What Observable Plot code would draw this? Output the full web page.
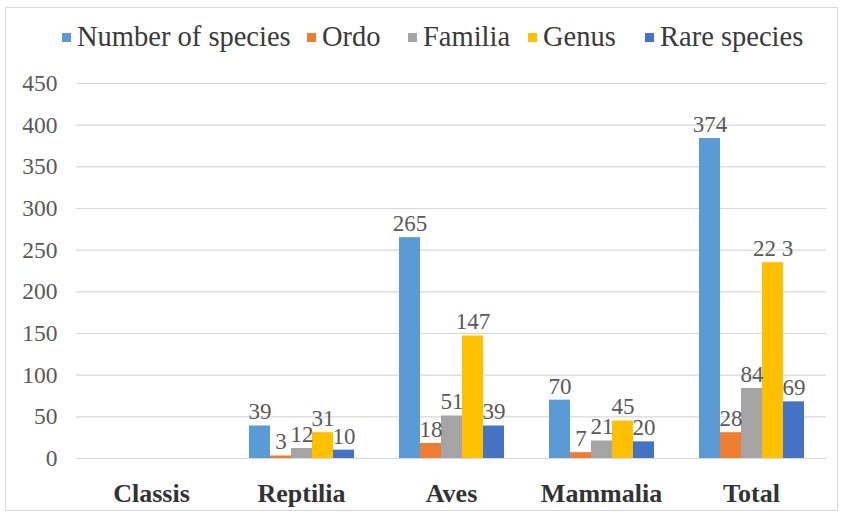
<!DOCTYPE html>
<html>
<head>
<meta charset="utf-8">
<script src="https://cdn.jsdelivr.net/npm/d3@7"></script>
<script src="https://cdn.jsdelivr.net/npm/@observablehq/plot@0.6"></script>
<style>
  html, body { margin: 0; padding: 0; background: #fff; }
  #wrap { position: relative; width: 844px; height: 514px; overflow: hidden; background: #fff; }
  #frame { position: absolute; left: 5px; top: 7px; width: 833px; height: 504px; border: 1px solid #d9d9d9; box-sizing: border-box; pointer-events: none; }
  #legend { position: absolute; left: 0; top: 0; width: 844px; height: 60px;
            font-family: "Liberation Serif", serif; font-size: 28.5px; color: #3a3a3a; white-space: nowrap; }
  #legend .sw { position: absolute; width: 9px; height: 9px; top: 33px; }
  #legend .tx { position: absolute; top: 20px; line-height: 34px; }
  #chart { position: absolute; left: 0; top: 0; }
  #chart svg text { font-family: "Liberation Serif", serif; }
</style>
</head>
<body>
<div id="wrap">
  <div id="frame"></div>
  <div id="legend"></div>
  <div id="chart"></div>
</div>
<script>
// Categories (x groups)
const categories = ["Classis", "Reptilia", "Aves", "Mammalia", "Total"];
// Series names
const seriesNames = ["Number of species", "Ordo", "Familia", "Genus", "Rare species"];
const seriesColors = ["#5B9BD5", "#ED7D31", "#A5A5A5", "#FFC000", "#4472C4"];

// Bar heights as drawn (Classis has no bars)
const numberOfSpecies = [null, 39, 265, 70, 384];
const ordo            = [null, 3, 18, 7, 31];
const familia         = [null, 12, 51, 21, 84];
const genus           = [null, 31, 147, 45, 235];
const rareSpecies     = [null, 10, 39, 20, 68];

// Data labels as printed
const numberOfSpeciesLabels = ["", "39", "265", "70", "374"];
const ordoLabels            = ["", "3", "18", "7", "28"];
const familiaLabels         = ["", "12", "51", "21", "84"];
const genusLabels           = ["", "31", "147", "45", "22 3"];
const rareSpeciesLabels     = ["", "10", "39", "20", "69"];

// Y ticks
const yTicks = [0, 50, 100, 150, 200, 250, 300, 350, 400, 450];

const seriesValues = [numberOfSpecies, ordo, familia, genus, rareSpecies];
const seriesLabels = [numberOfSpeciesLabels, ordoLabels, familiaLabels, genusLabels, rareSpeciesLabels];

const rows = [];
categories.forEach((c, i) => {
  seriesNames.forEach((s, j) => {
    rows.push({category: c, series: s, value: seriesValues[j][i], label: seriesLabels[j][i]});
  });
});

// Legend (layout of the legend entries)
const legendSwatchX = [62, 307, 408, 528, 645];
const legend = document.getElementById("legend");
seriesNames.forEach((s, j) => {
  const sw = document.createElement("span");
  sw.className = "sw";
  sw.style.background = seriesColors[j];
  sw.style.left = legendSwatchX[j] + "px";
  const tx = document.createElement("span");
  tx.className = "tx";
  tx.style.left = (legendSwatchX[j] + 15) + "px";
  tx.textContent = s;
  legend.appendChild(sw);
  legend.appendChild(tx);
});

const chart = Plot.plot({
  width: 844,
  height: 514,
  marginLeft: 76,
  marginRight: 18,
  marginTop: 83,
  marginBottom: 56,
  style: {fontFamily: "'Liberation Serif', serif", background: "transparent", overflow: "visible"},
  fx: {domain: categories, padding: 0, label: null},
  x: {domain: seriesNames, paddingInner: 0, paddingOuter: 1, axis: null},
  y: {domain: [0, 450], label: null},
  color: {domain: seriesNames, range: seriesColors},
  marks: [
    Plot.gridY(yTicks, {stroke: "#d9d9d9", strokeOpacity: 1, strokeWidth: 1.2}),
    Plot.axisY({ticks: yTicks, tickSize: 0, tickPadding: 19, fontSize: 23.5, fill: "#595959", label: null}),
    Plot.axisFx({anchor: "bottom", tickSize: 0, tickPadding: 25, fontSize: 26, fontWeight: "bold", fill: "#333333", label: null}),
    Plot.barY(rows, {fx: "category", x: "series", y: "value", fill: "series"}),
    Plot.text(rows, {fx: "category", x: "series", y: "value", text: "label", dy: -14, fontSize: 23, fill: "#595959"})
  ]
});
document.getElementById("chart").appendChild(chart);
</script>
</body>
</html>
